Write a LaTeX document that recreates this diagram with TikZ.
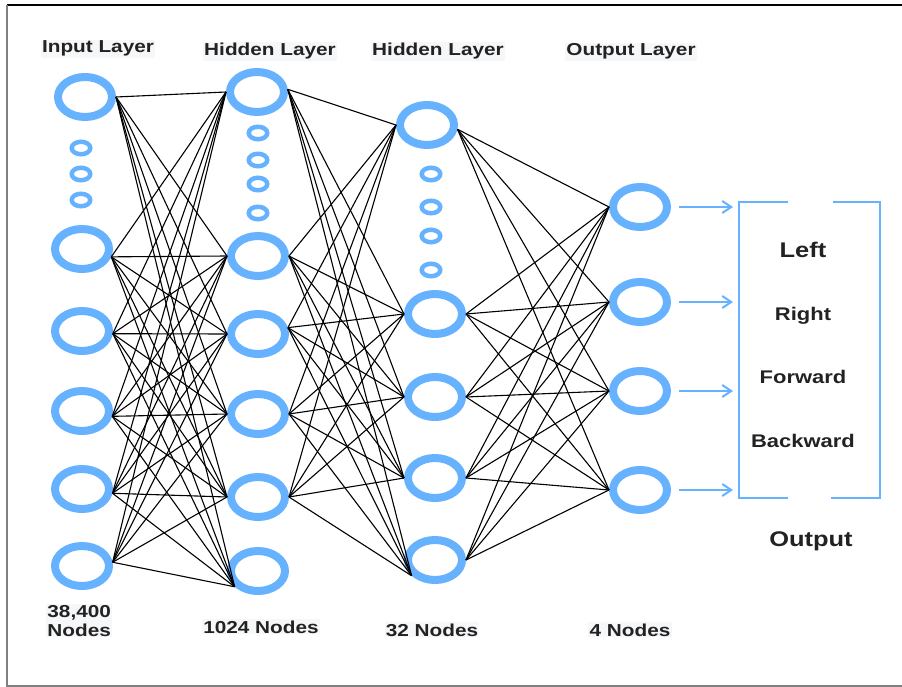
\documentclass[tikz,border=0pt]{standalone}
\usepackage{fontspec}
\setmainfont{Liberation Sans}
\usetikzlibrary{shapes.geometric,arrows.meta}
\definecolor{ringblue}{RGB}{102,178,255}
\definecolor{txt}{RGB}{34,34,34}
\definecolor{labelbg}{RGB}{246,247,249}
\begin{document}
\begin{tikzpicture}[x=1pt,y=-1pt,
  neuron/.style={ellipse, draw=ringblue, line width=8pt, minimum width=54pt, minimum height=40pt, inner sep=0pt},
  dotnode/.style={ellipse, draw=ringblue, line width=4.5pt, minimum width=18.5pt, minimum height=12.5pt, inner sep=0pt},
  link/.style={draw=black, line width=1.1pt},
  outarrow/.style={draw=ringblue, line width=2pt, -{Straight Barb[length=9pt,width=12pt,line width=2pt]}},
  bracketline/.style={draw=ringblue, line width=2pt},
  lbl/.style={font=\bfseries\fontsize{17.3}{20}\selectfont, text=txt, xscale=1.2, fill=labelbg, inner sep=1pt, anchor=base},
  word/.style={font=\bfseries\fontsize{18.3}{21}\selectfont, text=txt, xscale=1.2, inner sep=0pt, anchor=base},
  bigword/.style={font=\bfseries\fontsize{21.2}{24}\selectfont, text=txt, xscale=1.2, inner sep=0pt, anchor=base}]
\useasboundingbox (0,0) rectangle (902,687);
% frame
\draw[black, line width=1.5pt] (7,5) -- (905,5);
\draw[gray, line width=1.5pt] (7,5) -- (7,686) -- (905,686);

% input layer
\node[neuron] (i1) at (85,97) {};
\node[neuron] (i2) at (82,249) {};
\node[neuron] (i3) at (82,331) {};
\node[neuron] (i4) at (82,411) {};
\node[neuron] (i5) at (82,489) {};
\node[neuron] (i6) at (82,566) {};
\node[dotnode] (id1) at (81,148) {};
\node[dotnode] (id2) at (81,174) {};
\node[dotnode] (id3) at (81,200) {};

% first hidden layer
\node[neuron] (h1) at (257,92) {};
\node[neuron] (h2) at (258,256) {};
\node[neuron] (h3) at (258,334) {};
\node[neuron] (h4) at (258,414) {};
\node[neuron] (h5) at (258,497) {};
\node[neuron] (h6) at (258,571) {};
\node[dotnode] (hd1) at (258,133) {};
\node[dotnode] (hd2) at (258,160) {};
\node[dotnode] (hd3) at (258,184) {};
\node[dotnode] (hd4) at (258,213) {};

% second hidden layer
\node[neuron] (g1) at (427,125) {};
\node[neuron] (g2) at (435,314) {};
\node[neuron] (g3) at (435,397) {};
\node[neuron] (g4) at (435,478) {};
\node[neuron] (g5) at (435,560) {};
\node[dotnode] (gd1) at (431,174) {};
\node[dotnode] (gd2) at (431,207) {};
\node[dotnode] (gd3) at (431,236) {};
\node[dotnode] (gd4) at (431,270) {};

% output layer
\node[neuron] (o1) at (640,207) {};
\node[neuron] (o2) at (640,302) {};
\node[neuron] (o3) at (640,391) {};
\node[neuron] (o4) at (640,490) {};

% weights: input -> hidden 1
\foreach \a/\ao in {1/east,2/345,3/355,4/350,5/352,6/7}{
  \foreach \b/\bi in {1/west,2/west,3/west,4/west,5/west,6/214}{
    \draw[link] (i\a.\ao) -- (h\b.\bi);
  }
}
% weights: hidden 1 -> hidden 2
\foreach \a/\ao in {1/5,2/east,3/12,4/east,5/east}{
  \foreach \b/\bi in {1/west,2/west,3/west,4/west,5/214}{
    \draw[link] (h\a.\ao) -- (g\b.\bi);
  }
}
% weights: hidden 2 -> output
\foreach \a/\ao in {1/352,2/east,3/east,4/east,5/east}{
  \foreach \b in {1,2,3,4}{
    \draw[link] (g\a.\ao) -- (o\b.west);
  }
}

% output bracket
\coordinate (bl) at (733,0);
\draw[bracketline] (788,202) -- (739,202) -- (739,498) -- (788,498);
\draw[bracketline] (833,202) -- (880,202) -- (880,498) -- (831,498);
\foreach \k in {1,2,3,4}{
  \draw[outarrow, shorten <=8pt] (o\k.east) -- (o\k.east -| bl);
}

% class names
\node[bigword] (cl) at (803,258) {Left};
\node[word] (cr) at (803,320) {Right};
\node[word] (cf) at (803,383) {Forward};
\node[word] (cb) at (803,447) {Backward};
\node[bigword] (co) at (811,546) {Output};

% layer captions
\node[lbl] (t1) at (98,53) {Input Layer};
\node[lbl] (t2) at (270,56) {Hidden Layer};
\node[lbl] (t3) at (438,56) {Hidden Layer};
\node[lbl] (t4) at (631,56) {Output Layer};
\node[lbl, anchor=base west, align=left] (b1) at (46,636) {38,400\\[-1.5pt]Nodes};
\node[lbl] (b2) at (261,633) {1024 Nodes};
\node[lbl] (b3) at (432,636) {32 Nodes};
\node[lbl] (b4) at (630,636) {4 Nodes};
\end{tikzpicture}
\end{document}
